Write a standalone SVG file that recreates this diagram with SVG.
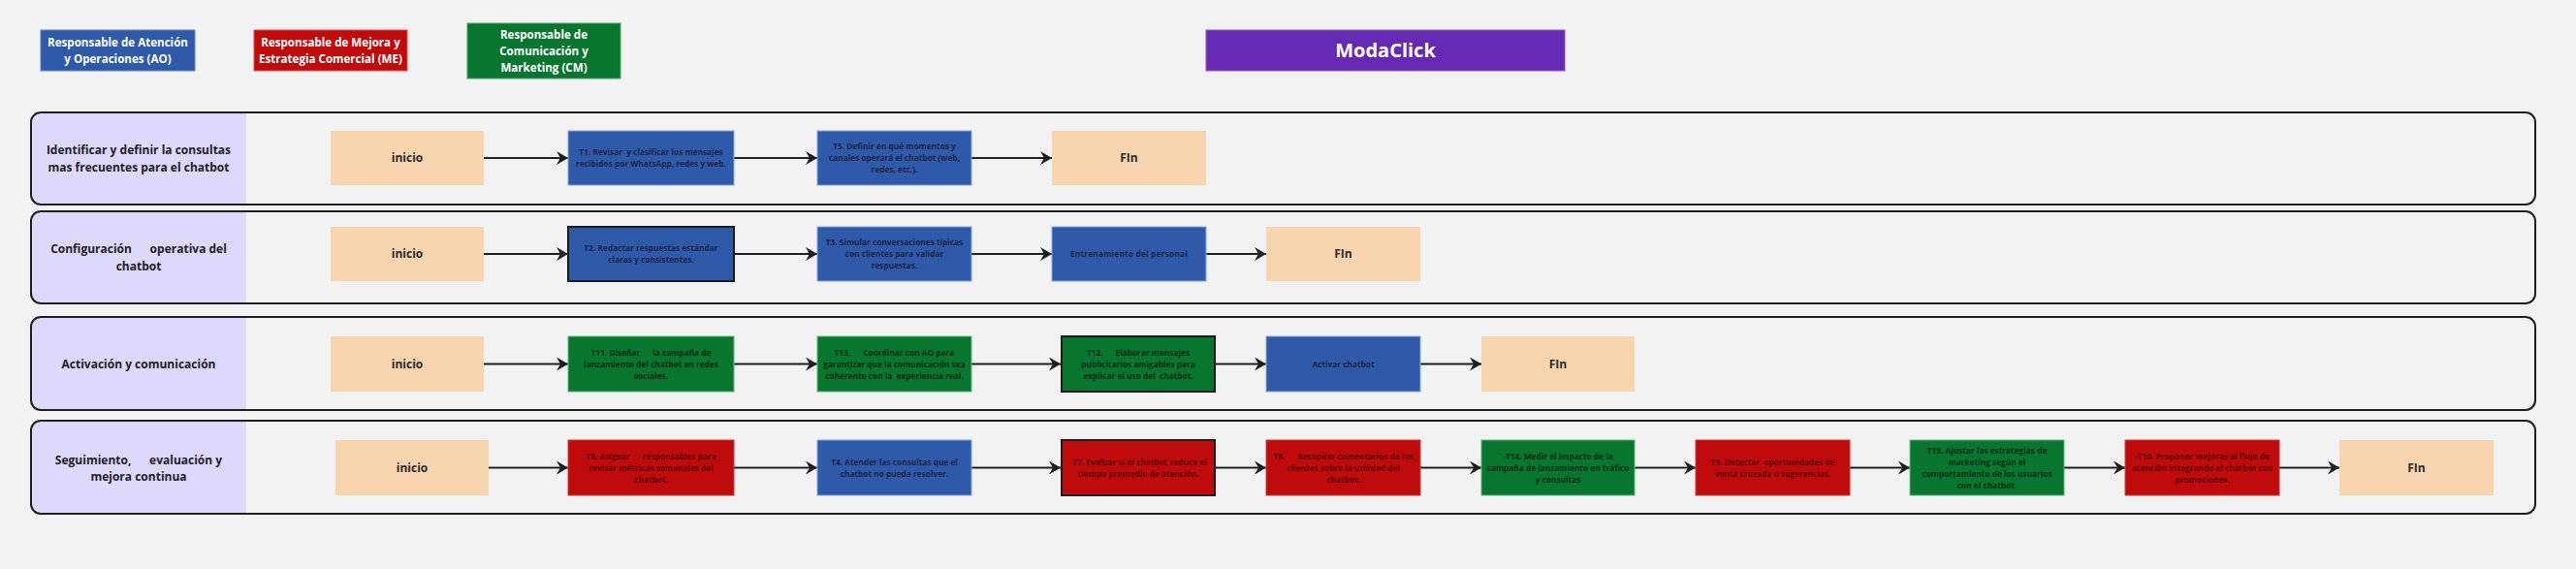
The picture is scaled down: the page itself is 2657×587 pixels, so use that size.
<svg xmlns="http://www.w3.org/2000/svg" width="2657" height="587" viewBox="0 0 2657 587">
<style>
.bg{fill:#f2f2f2}
.lane{fill:none;stroke:#1e1e1e;stroke-width:2}
.lbl{fill:#dcd9fd}
.lt{font-family:'Open Sans','Noto Sans',sans-serif;font-weight:700;font-size:12px;fill:#222;text-anchor:middle;white-space:pre}
.peach{fill:#f8d4af}
.blue{fill:#2f5aa9;stroke:#86a6e0;stroke-width:1}
.red{fill:#bf0b0b;stroke:#cf3a3a;stroke-width:1}
.green{fill:#08762f;stroke:#5dbb7c;stroke-width:1}
.dark{stroke:#1a1a1a;stroke-width:2}
.tt{font-family:'Open Sans','Noto Sans',sans-serif;font-weight:700;font-size:8.3px;text-anchor:middle;white-space:pre}
.tb{fill:#1b2547}.tr{fill:#5e0a0a}.tg{fill:#0c2d17}
.big{font-family:'Open Sans','Noto Sans',sans-serif;font-weight:700;font-size:12px;fill:#2a2a2a;text-anchor:middle}
.leg{font-family:'Open Sans','Noto Sans',sans-serif;font-weight:700;font-size:11.6px;fill:#ffffff;text-anchor:middle}
.edge{stroke:#1e1e1e;stroke-width:2;fill:none;marker-end:url(#arr)}
</style>
<defs>
<marker id="arr" markerUnits="userSpaceOnUse" markerWidth="13" markerHeight="14" refX="12" refY="7" orient="auto">
<path d="M0,0 L12,7 L0,14 L4,7 Z" fill="#1e1e1e"/>
</marker>
</defs>
<rect class="bg" x="0" y="0" width="2657" height="587"/>

<g id="legend">
<g id="legend-ao"><rect x="42" y="31" width="159" height="42" fill="#2f5aa9" stroke="#5b7fc4"/><text class="leg"><tspan x="121.5" y="48">Responsable de Atención</tspan><tspan x="121.5" y="65">y Operaciones (AO)</tspan></text></g>
<g id="legend-me"><rect x="262" y="31" width="158" height="42" fill="#bf0b0b" stroke="#d85050"/><text class="leg"><tspan x="341" y="48">Responsable de Mejora y</tspan><tspan x="341" y="65">Estrategia Comercial (ME)</tspan></text></g>
<g id="legend-cm"><rect x="482" y="24" width="158" height="57" fill="#08762f" stroke="#4ca86a"/><text class="leg"><tspan x="561" y="40">Responsable de</tspan><tspan x="561" y="57">Comunicación y</tspan><tspan x="561" y="74">Marketing (CM)</tspan></text></g>
<g id="title"><rect x="1244" y="31" width="370" height="42" fill="#6529b3" stroke="#8a5ad0"/><text x="1429" y="59" font-family="'Open Sans','Noto Sans',sans-serif" font-weight="700" font-size="20" fill="#ffffff" text-anchor="middle">ModaClick</text></g>
</g>

<g id="lanes">
<g id="lane1"><path class="lbl" d="M42,116 H254 V211 H42 A10,10 0 0 1 32,201 V126 A10,10 0 0 1 42,116 Z"/><rect class="lane" x="32" y="116" width="2583" height="95" rx="10"/><text class="lt"><tspan x="143" y="159">Identificar y definir la consultas</tspan><tspan x="143" y="177">mas frecuentes para el chatbot</tspan></text></g>
<g id="lane2"><path class="lbl" d="M42,218 H254 V313 H42 A10,10 0 0 1 32,303 V228 A10,10 0 0 1 42,218 Z"/><rect class="lane" x="32" y="218" width="2583" height="95" rx="10"/><text class="lt"><tspan x="143" y="261">Configuración      operativa del</tspan><tspan x="143" y="279">chatbot</tspan></text></g>
<g id="lane3"><path class="lbl" d="M42,327 H254 V423 H42 A10,10 0 0 1 32,413 V337 A10,10 0 0 1 42,327 Z"/><rect class="lane" x="32" y="327" width="2583" height="96" rx="10"/><text class="lt" x="143" y="379.5">Activación y comunicación</text></g>
<g id="lane4"><path class="lbl" d="M42,434 H254 V530 H42 A10,10 0 0 1 32,520 V444 A10,10 0 0 1 42,434 Z"/><rect class="lane" x="32" y="434" width="2583" height="96" rx="10"/><text class="lt"><tspan x="143" y="479">Seguimiento,      evaluación y</tspan><tspan x="143" y="496">mejora continua</tspan></text></g>
</g>

<g id="connectors">
<line class="edge" x1="499" y1="163" x2="586" y2="163"/>
<line class="edge" x1="757" y1="163" x2="843" y2="163"/>
<line class="edge" x1="1002" y1="163" x2="1085" y2="163"/>
<line class="edge" x1="499" y1="262" x2="586" y2="262"/>
<line class="edge" x1="757" y1="262" x2="843" y2="262"/>
<line class="edge" x1="1002" y1="262" x2="1085" y2="262"/>
<line class="edge" x1="1244" y1="262" x2="1306" y2="262"/>
<line class="edge" x1="499" y1="375.5" x2="586" y2="375.5"/>
<line class="edge" x1="757" y1="375.5" x2="843" y2="375.5"/>
<line class="edge" x1="1002" y1="375.5" x2="1094" y2="375.5"/>
<line class="edge" x1="1254" y1="375.5" x2="1306" y2="375.5"/>
<line class="edge" x1="1465" y1="375.5" x2="1528" y2="375.5"/>
<line class="edge" x1="504" y1="482.5" x2="586" y2="482.5"/>
<line class="edge" x1="757" y1="482.5" x2="843" y2="482.5"/>
<line class="edge" x1="1002" y1="482.5" x2="1094" y2="482.5"/>
<line class="edge" x1="1254" y1="482.5" x2="1306" y2="482.5"/>
<line class="edge" x1="1465" y1="482.5" x2="1528" y2="482.5"/>
<line class="edge" x1="1686" y1="482.5" x2="1749" y2="482.5"/>
<line class="edge" x1="1908" y1="482.5" x2="1970" y2="482.5"/>
<line class="edge" x1="2129" y1="482.5" x2="2192" y2="482.5"/>
<line class="edge" x1="2351" y1="482.5" x2="2413" y2="482.5"/>
</g>

<g id="n-inicio1"><rect class="peach" x="341" y="135" width="158" height="56"/><text class="big" x="420" y="167.3">inicio</text></g>
<g id="n-t1"><rect class="blue" x="586" y="135" width="171" height="56"/><text class="tt tb"><tspan x="671.5" y="160">T1. Revisar  y clasificar los mensajes</tspan><tspan x="671.5" y="172">recibidos por WhatsApp, redes y web.</tspan></text></g>
<g id="n-t5"><rect class="blue" x="843" y="135" width="159" height="56"/><text class="tt tb"><tspan x="922.5" y="154">T5. Definir en qué momentos y</tspan><tspan x="922.5" y="166">canales operará el chatbot (web,</tspan><tspan x="922.5" y="178">redes, etc.).</tspan></text></g>
<g id="n-fin1"><rect class="peach" x="1085" y="135" width="159" height="56"/><text class="big" x="1164.5" y="167.3">FIn</text></g>

<g id="n-inicio2"><rect class="peach" x="341" y="234" width="158" height="56"/><text class="big" x="420" y="266.3">inicio</text></g>
<g id="n-t2"><rect class="blue dark" x="586" y="234" width="171" height="56"/><text class="tt tb"><tspan x="671.5" y="259">T2. Redactar respuestas estándar</tspan><tspan x="671.5" y="271">claras y consistentes.</tspan></text></g>
<g id="n-t3"><rect class="blue" x="843" y="234" width="159" height="56"/><text class="tt tb"><tspan x="922.5" y="253">T3. Simular conversaciones tipicas</tspan><tspan x="922.5" y="265">con clientes para validar</tspan><tspan x="922.5" y="277">respuestas.</tspan></text></g>
<g id="n-entrenamiento"><rect class="blue" x="1085" y="234" width="159" height="56"/><text class="tt tb" x="1164.5" y="265" letter-spacing="0.2">Entrenamiento del personal</text></g>
<g id="n-fin2"><rect class="peach" x="1306" y="234" width="159" height="56"/><text class="big" x="1385.5" y="266.3">FIn</text></g>

<g id="n-inicio3"><rect class="peach" x="341" y="347" width="158" height="57"/><text class="big" x="420" y="379.8">inicio</text></g>
<g id="n-t11"><rect class="green" x="586" y="347" width="171" height="57"/><text class="tt tg"><tspan x="671.5" y="366.5">T11. Diseñar      la campaña de</tspan><tspan x="671.5" y="378.5">lanzamiento del chatbot en redes</tspan><tspan x="671.5" y="390.5">sociales.</tspan></text></g>
<g id="n-t13"><rect class="green" x="843" y="347" width="159" height="57"/><text class="tt tg"><tspan x="922.5" y="366.5">T13.      Coordinar con AO para</tspan><tspan x="922.5" y="378.5">garantizar que la comunicación sea</tspan><tspan x="922.5" y="390.5">coherente con la  experiencia real.</tspan></text></g>
<g id="n-t12"><rect class="green dark" x="1095" y="347" width="158" height="57"/><text class="tt tg"><tspan x="1174" y="366.5">T12.      Elaborar mensajes</tspan><tspan x="1174" y="378.5">publicitarios amigables para</tspan><tspan x="1174" y="390.5">explicar el uso del  chatbot.</tspan></text></g>
<g id="n-activar"><rect class="blue" x="1306" y="347" width="159" height="57"/><text class="tt tb" x="1385.5" y="378.5">Activar chatbot</text></g>
<g id="n-fin3"><rect class="peach" x="1528" y="347" width="158" height="57"/><text class="big" x="1607" y="379.8">FIn</text></g>

<g id="n-inicio4"><rect class="peach" x="346" y="454" width="158" height="57"/><text class="big" x="425" y="486.8">inicio</text></g>
<g id="n-t6"><rect class="red" x="586" y="454" width="171" height="57"/><text class="tt tr"><tspan x="671.5" y="473.5">T6. Asignar      responsables para</tspan><tspan x="671.5" y="485.5">revisar métricas semanales del</tspan><tspan x="671.5" y="497.5">chatbot.</tspan></text></g>
<g id="n-t4"><rect class="blue" x="843" y="454" width="159" height="57"/><text class="tt tb"><tspan x="922.5" y="479.5">T4. Atender las consultas que el</tspan><tspan x="922.5" y="491.5">chatbot no pueda resolver.</tspan></text></g>
<g id="n-t7"><rect class="red dark" x="1095" y="454" width="158" height="57"/><text class="tt tr"><tspan x="1174" y="479.5">-T7. Evaluar si el chatbot reduce el</tspan><tspan x="1174" y="491.5">tiempo promedio de atención.</tspan></text></g>
<g id="n-t8"><rect class="red" x="1306" y="454" width="159" height="57"/><text class="tt tr"><tspan x="1385.5" y="473.5">T8.      Recopilar comentarios de los</tspan><tspan x="1385.5" y="485.5">clientes sobre la utilidad del</tspan><tspan x="1385.5" y="497.5">chatbot.</tspan></text></g>
<g id="n-t14"><rect class="green" x="1528" y="454" width="158" height="57"/><text class="tt tg"><tspan x="1607" y="473.5">-T14. Medir el impacto de la</tspan><tspan x="1607" y="485.5">campaña de lanzamiento en tráfico</tspan><tspan x="1607" y="497.5">y consultas</tspan></text></g>
<g id="n-t9"><rect class="red" x="1749" y="454" width="159" height="57"/><text class="tt tr"><tspan x="1828.5" y="479.5">T9. Detectar  oportunidades de</tspan><tspan x="1828.5" y="491.5">venta cruzada o sugerencias.</tspan></text></g>
<g id="n-t15"><rect class="green" x="1970" y="454" width="159" height="57"/><text class="tt tg"><tspan x="2049.5" y="467.5">T15. Ajustar las estrategias de</tspan><tspan x="2049.5" y="479.5">marketing según el</tspan><tspan x="2049.5" y="491.5">comportamiento de los usuarios</tspan><tspan x="2049.5" y="503.5">con el chatbot.</tspan></text></g>
<g id="n-t10"><rect class="red" x="2192" y="454" width="159" height="57"/><text class="tt tr"><tspan x="2271.5" y="473.5">-T10. Proponer mejoras al flujo de</tspan><tspan x="2271.5" y="485.5">atención integrando el chatbot con</tspan><tspan x="2271.5" y="497.5">promociones.</tspan></text></g>
<g id="n-fin4"><rect class="peach" x="2413" y="454" width="159" height="57"/><text class="big" x="2492.5" y="486.8">FIn</text></g>
</svg>
